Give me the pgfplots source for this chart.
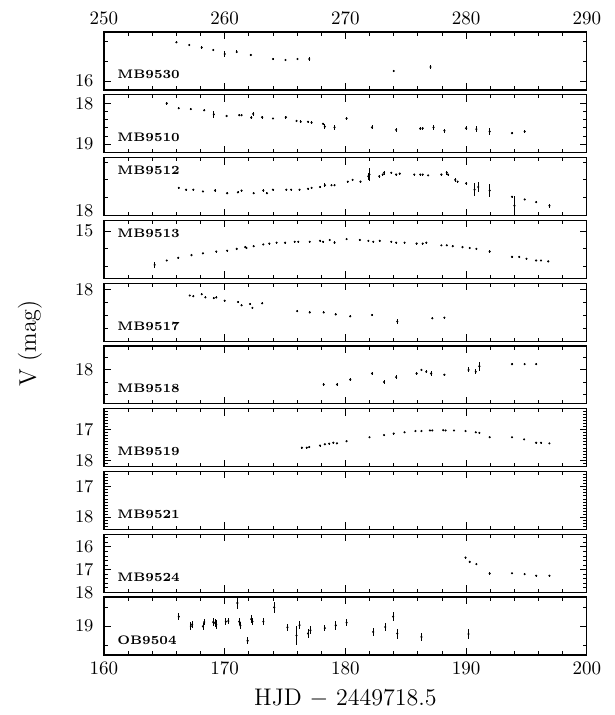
\documentclass[border=0pt]{standalone}
\usepackage{pgfplots}
\pgfplotsset{compat=1.18}
\usepackage{pgfplotstable}
\usepgfplotslibrary{groupplots}
\usetikzlibrary{calc}

% light curves, columns: day, V mag, error
\pgfplotstableread{
x y e
166.0 15.613 0.012
167.06 15.64 0.012
168.1 15.665 0.012
169.05 15.69 0.012
170.0 15.73 0.03
171.0 15.71 0.015
172.17 15.74 0.012
174.0 15.78 0.012
175.04 15.79 0.012
176.03 15.78 0.012
177.0 15.78 0.02
184.0 15.90 0.01
187.05 15.86 0.02
}\mbA
\pgfplotstableread{
x y e
165.2 18.00 0.04
166.2 18.12 0.03
167.2 18.14 0.02
168.3 18.17 0.02
169.1 18.27 0.08
170.16 18.31 0.03
171.2 18.29 0.03
171.4 18.29 0.02
172.2 18.35 0.04
172.36 18.26 0.06
173.1 18.34 0.04
174.0 18.37 0.02
175.07 18.34 0.04
175.95 18.43 0.03
176.3 18.45 0.03
176.9 18.45 0.02
177.2 18.47 0.03
178.15 18.50 0.03
178.3 18.57 0.07
179.1 18.59 0.07
180.1 18.37 0.04
182.2 18.59 0.05
184.2 18.65 0.05
186.2 18.62 0.04
186.4 18.61 0.04
187.3 18.59 0.07
188.2 18.67 0.05
190.0 18.61 0.05
190.85 18.63 0.07
191.95 18.69 0.09
193.8 18.73 0.03
194.85 18.69 0.03
}\mbB
\pgfplotstableread{
x y e
166.2 17.69 0.01
166.8 17.71 0.01
167.4 17.71 0.01
168.2 17.73 0.01
169.2 17.72 0.02
170.2 17.75 0.01
171.1 17.74 0.01
171.4 17.72 0.01
172.4 17.75 0.01
173.2 17.72 0.02
173.5 17.75 0.01
174.0 17.71 0.01
175.1 17.71 0.01
175.5 17.71 0.01
176.2 17.71 0.01
176.9 17.70 0.01
177.2 17.69 0.01
177.9 17.68 0.01
178.3 17.66 0.02
178.85 17.66 0.01
179.1 17.66 0.01
180.2 17.62 0.01
180.6 17.60 0.01
181.25 17.62 0.01
181.9 17.56 0.04
182.0 17.54 0.07
182.8 17.56 0.02
183.1 17.54 0.01
183.2 17.52 0.02
183.8 17.52 0.01
184.2 17.54 0.01
184.5 17.53 0.01
185.7 17.54 0.01
186.2 17.54 0.01
186.4 17.54 0.01
186.85 17.55 0.01
187.95 17.54 0.01
188.4 17.52 0.02
188.5 17.54 0.01
189.1 17.60 0.02
189.3 17.62 0.01
190.0 17.64 0.02
190.7 17.71 0.075
191.0 17.68 0.06
191.95 17.72 0.07
193.8 17.79 0.01
194.0 17.89 0.11
194.85 17.82 0.01
195.8 17.85 0.01
196.9 17.89 0.02
}\mbC
\pgfplotstableread{
x y e
164.2 15.379 0.033
165.2 15.33 0.008
166.15 15.30 0.008
167.25 15.27 0.008
168.2 15.25 0.008
169.3 15.23 0.01
170.2 15.22 0.008
171.0 15.20 0.008
171.7 15.18 0.008
171.8 15.19 0.008
172.4 15.17 0.008
173.2 15.15 0.008
173.7 15.14 0.008
174.3 15.13 0.008
175.0 15.13 0.008
175.8 15.12 0.008
176.1 15.12 0.008
177.05 15.12 0.008
177.9 15.11 0.008
178.15 15.12 0.008
178.7 15.10 0.008
179.1 15.13 0.02
180.1 15.09 0.015
181.2 15.10 0.008
181.9 15.11 0.008
182.3 15.12 0.008
182.85 15.11 0.008
183.8 15.12 0.008
184.2 15.13 0.008
184.9 15.13 0.008
185.9 15.14 0.008
186.4 15.14 0.008
186.7 15.13 0.008
187.95 15.16 0.008
188.4 15.16 0.008
188.9 15.17 0.008
189.7 15.18 0.008
190.3 15.19 0.008
190.85 15.20 0.008
191.95 15.23 0.02
193.8 15.29 0.008
194.4 15.29 0.008
195.0 15.31 0.008
195.8 15.33 0.008
196.2 15.33 0.008
196.8 15.34 0.008
}\mbD
\pgfplotstableread{
x y e
167.1 18.09 0.015
167.4 18.10 0.015
168.1 18.07 0.015
168.4 18.12 0.015
169.1 18.13 0.015
169.3 18.12 0.015
170.0 18.17 0.015
171.1 18.19 0.015
171.4 18.24 0.015
172.1 18.22 0.015
172.3 18.28 0.015
173.1 18.21 0.015
176.0 18.33 0.015
177.05 18.35 0.015
178.2 18.35 0.015
179.2 18.38 0.015
180.4 18.41 0.015
182.2 18.39 0.015
184.3 18.49 0.045
187.2 18.44 0.015
188.2 18.43 0.015
}\mbE
\pgfplotstableread{
x y e
178.2 18.24 0.02
179.3 18.24 0.02
180.4 18.16 0.03
182.2 18.06 0.02
183.2 18.20 0.03
184.2 18.12 0.03
185.9 18.06 0.02
186.3 18.00 0.02
186.7 18.03 0.02
187.1 18.06 0.04
188.2 18.08 0.02
190.2 18.00 0.04
190.8 18.03 0.04
191.1 17.94 0.078
193.8 17.905 0.02
194.85 17.905 0.02
195.8 17.905 0.02
}\mbF
\pgfplotstableread{
x y e
176.4 17.59 0.01
176.8 17.59 0.01
177.0 17.57 0.01
177.9 17.52 0.01
178.3 17.48 0.01
178.65 17.46 0.01
179.0 17.43 0.01
179.3 17.45 0.01
180.1 17.38 0.01
182.0 17.25 0.01
183.2 17.18 0.01
184.0 17.13 0.01
184.9 17.09 0.01
185.8 17.05 0.01
186.3 17.05 0.01
187.0 17.03 0.01
187.2 17.03 0.01
188.1 17.02 0.01
188.3 17.03 0.01
189.0 17.03 0.01
189.95 17.05 0.01
190.8 17.09 0.01
191.1 17.11 0.01
191.95 17.25 0.01
193.8 17.25 0.01
194.8 17.32 0.01
195.8 17.43 0.01
196.2 17.43 0.01
196.9 17.45 0.01
}\mbG
\pgfplotstableread{
x y e
189.95 16.47 0.03
190.3 16.66 0.03
190.85 16.76 0.03
191.95 17.17 0.08
193.8 17.16 0.03
194.85 17.20 0.03
195.8 17.27 0.03
196.9 17.27 0.03
}\mbH
\pgfplotstableread{
x y e
166.2 18.755 0.096
167.2 19.003 0.109
167.3 18.956 0.086
168.2 19.008 0.086
168.3 18.896 0.086
169.05 18.896 0.112
169.2 18.917 0.109
169.3 18.961 0.109
170.1 18.883 0.099
170.3 18.870 0.086
171.05 18.396 0.151
171.2 18.883 0.099
171.3 18.990 0.096
171.9 19.385 0.099
172.2 18.820 0.099
172.3 18.883 0.099
173.2 18.885 0.096
174.1 18.513 0.138
175.2 19.034 0.096
175.95 19.247 0.240
176.2 18.977 0.109
176.9 19.195 0.109
177.1 19.112 0.104
178.3 19.055 0.073
179.2 18.982 0.112
180.1 18.909 0.099
182.3 19.156 0.112
183.3 19.026 0.104
183.95 18.753 0.117
184.3 19.198 0.130
186.3 19.286 0.104
190.2 19.208 0.122
}\obA

\pgfplotsset{
  pts/.style={only marks, mark=*, mark size=0.3pt, black,
    error bars/y dir=both, error bars/y explicit,
    error bars/error mark=none,
    error bars/error bar style={line width=0.45pt}},
}
\tikzset{lab/.style={anchor=base west, inner sep=0pt, font=\fontsize{6.2}{7}\selectfont\bfseries}}

\begin{document}
\begin{tikzpicture}
\begin{groupplot}[
  group style={group size=1 by 10, vertical sep=2.4pt},
  scale only axis, width=241.5pt, height=29pt,
  xmin=160, xmax=200,
  xtick={160,170,...,200}, minor x tick num=4, xticklabels={},
  y dir=reverse,
  tick align=inside, tick pos=both, yticklabel pos=left,
  major tick length=3.5pt, minor tick length=1.8pt,
  every tick/.style={black, line width=0.45pt},
  axis line style={line width=0.6pt},
  yticklabel style={xshift=-1.7pt},
  ticklabel style={font=\fontsize{9.5}{11}\selectfont},
]
\nextgroupplot[ymin=15.51, ymax=16.09, ytick={16}, minor ytick={15.6,15.8},
  xticklabel pos=upper, xticklabels={250,260,270,280,290}]
\addplot[pts] table[x=x, y=y, y error=e] {\mbA};
\node[lab] at ([xshift=6.5pt, yshift=5.5pt]axis description cs:0,0) {MB9530};

\nextgroupplot[ymin=17.79, ymax=19.21, ytick={18,19}, minor ytick={18.2,18.4,18.6,18.8}]
\addplot[pts] table[x=x, y=y, y error=e] {\mbB};
\node[lab] at ([xshift=6.5pt, yshift=5.5pt]axis description cs:0,0) {MB9510};

\nextgroupplot[ymin=17.35, ymax=18.0, ytick={18}, minor ytick={17.4,17.6,17.8},
  yticklabel style={yshift=2.5pt}]
\addplot[pts] table[x=x, y=y, y error=e] {\mbC};
\node[lab] at ([xshift=6.5pt, yshift=-8.5pt]axis description cs:0,1) {MB9512};

\nextgroupplot[ymin=14.88, ymax=15.53, ytick={15}, minor ytick={15.2,15.4}]
\addplot[pts] table[x=x, y=y, y error=e] {\mbD};
\node[lab] at ([xshift=6.5pt, yshift=-8.5pt]axis description cs:0,1) {MB9513};

\nextgroupplot[ymin=17.9, ymax=18.79, ytick={18}, minor ytick={18.2,18.4,18.6}]
\addplot[pts] table[x=x, y=y, y error=e] {\mbE};
\node[lab] at ([xshift=6.5pt, yshift=5.5pt]axis description cs:0,0) {MB9517};

\nextgroupplot[ymin=17.605, ymax=18.56, ytick={18}, minor ytick={17.8,18.2,18.4}]
\addplot[pts] table[x=x, y=y, y error=e] {\mbF};
\node[lab] at ([xshift=6.5pt, yshift=5.5pt]axis description cs:0,0) {MB9518};

\nextgroupplot[ymin=16.32, ymax=18.21, ytick={17,18}, minor ytick={16.4,16.5,...,18.2}]
\addplot[pts] table[x=x, y=y, y error=e] {\mbG};
\node[lab] at ([xshift=6.5pt, yshift=5.5pt]axis description cs:0,0) {MB9519};

\nextgroupplot[ymin=16.49, ymax=18.41, ytick={17,18}, minor ytick={16.5,16.6,...,18.4}]
\node[lab] at ([xshift=6.5pt, yshift=5.5pt]axis description cs:0,0) {MB9521};

\nextgroupplot[ymin=15.44, ymax=18.0, ytick={16,17,18}, minor ytick={15.6,15.8,...,17.8}]
\addplot[pts] table[x=x, y=y, y error=e] {\mbH};
\node[lab] at ([xshift=6.5pt, yshift=5.5pt]axis description cs:0,0) {MB9524};

\nextgroupplot[ymin=18.24, ymax=19.76, ytick={19}, minor ytick={18.5,19.5},
  xticklabels={160,170,180,190,200},
  xlabel={HJD $-$ 2449718.5},
  xlabel style={font=\fontsize{12}{14}\selectfont}]
\addplot[pts] table[x=x, y=y, y error=e] {\obA};
\node[lab] at ([xshift=6.5pt, yshift=5.5pt]axis description cs:0,0) {OB9504};
\end{groupplot}
\node[rotate=90, font=\fontsize{12}{14}\selectfont]
  at ($(group c1r1.north west)!0.5!(group c1r10.south west)+(-37pt,0)$) {V (mag)};
\path ([shift={(-52pt,16pt)}]group c1r1.north west)
  rectangle ([shift={(14pt,-30pt)}]group c1r10.south east);
\end{tikzpicture}
\end{document}
